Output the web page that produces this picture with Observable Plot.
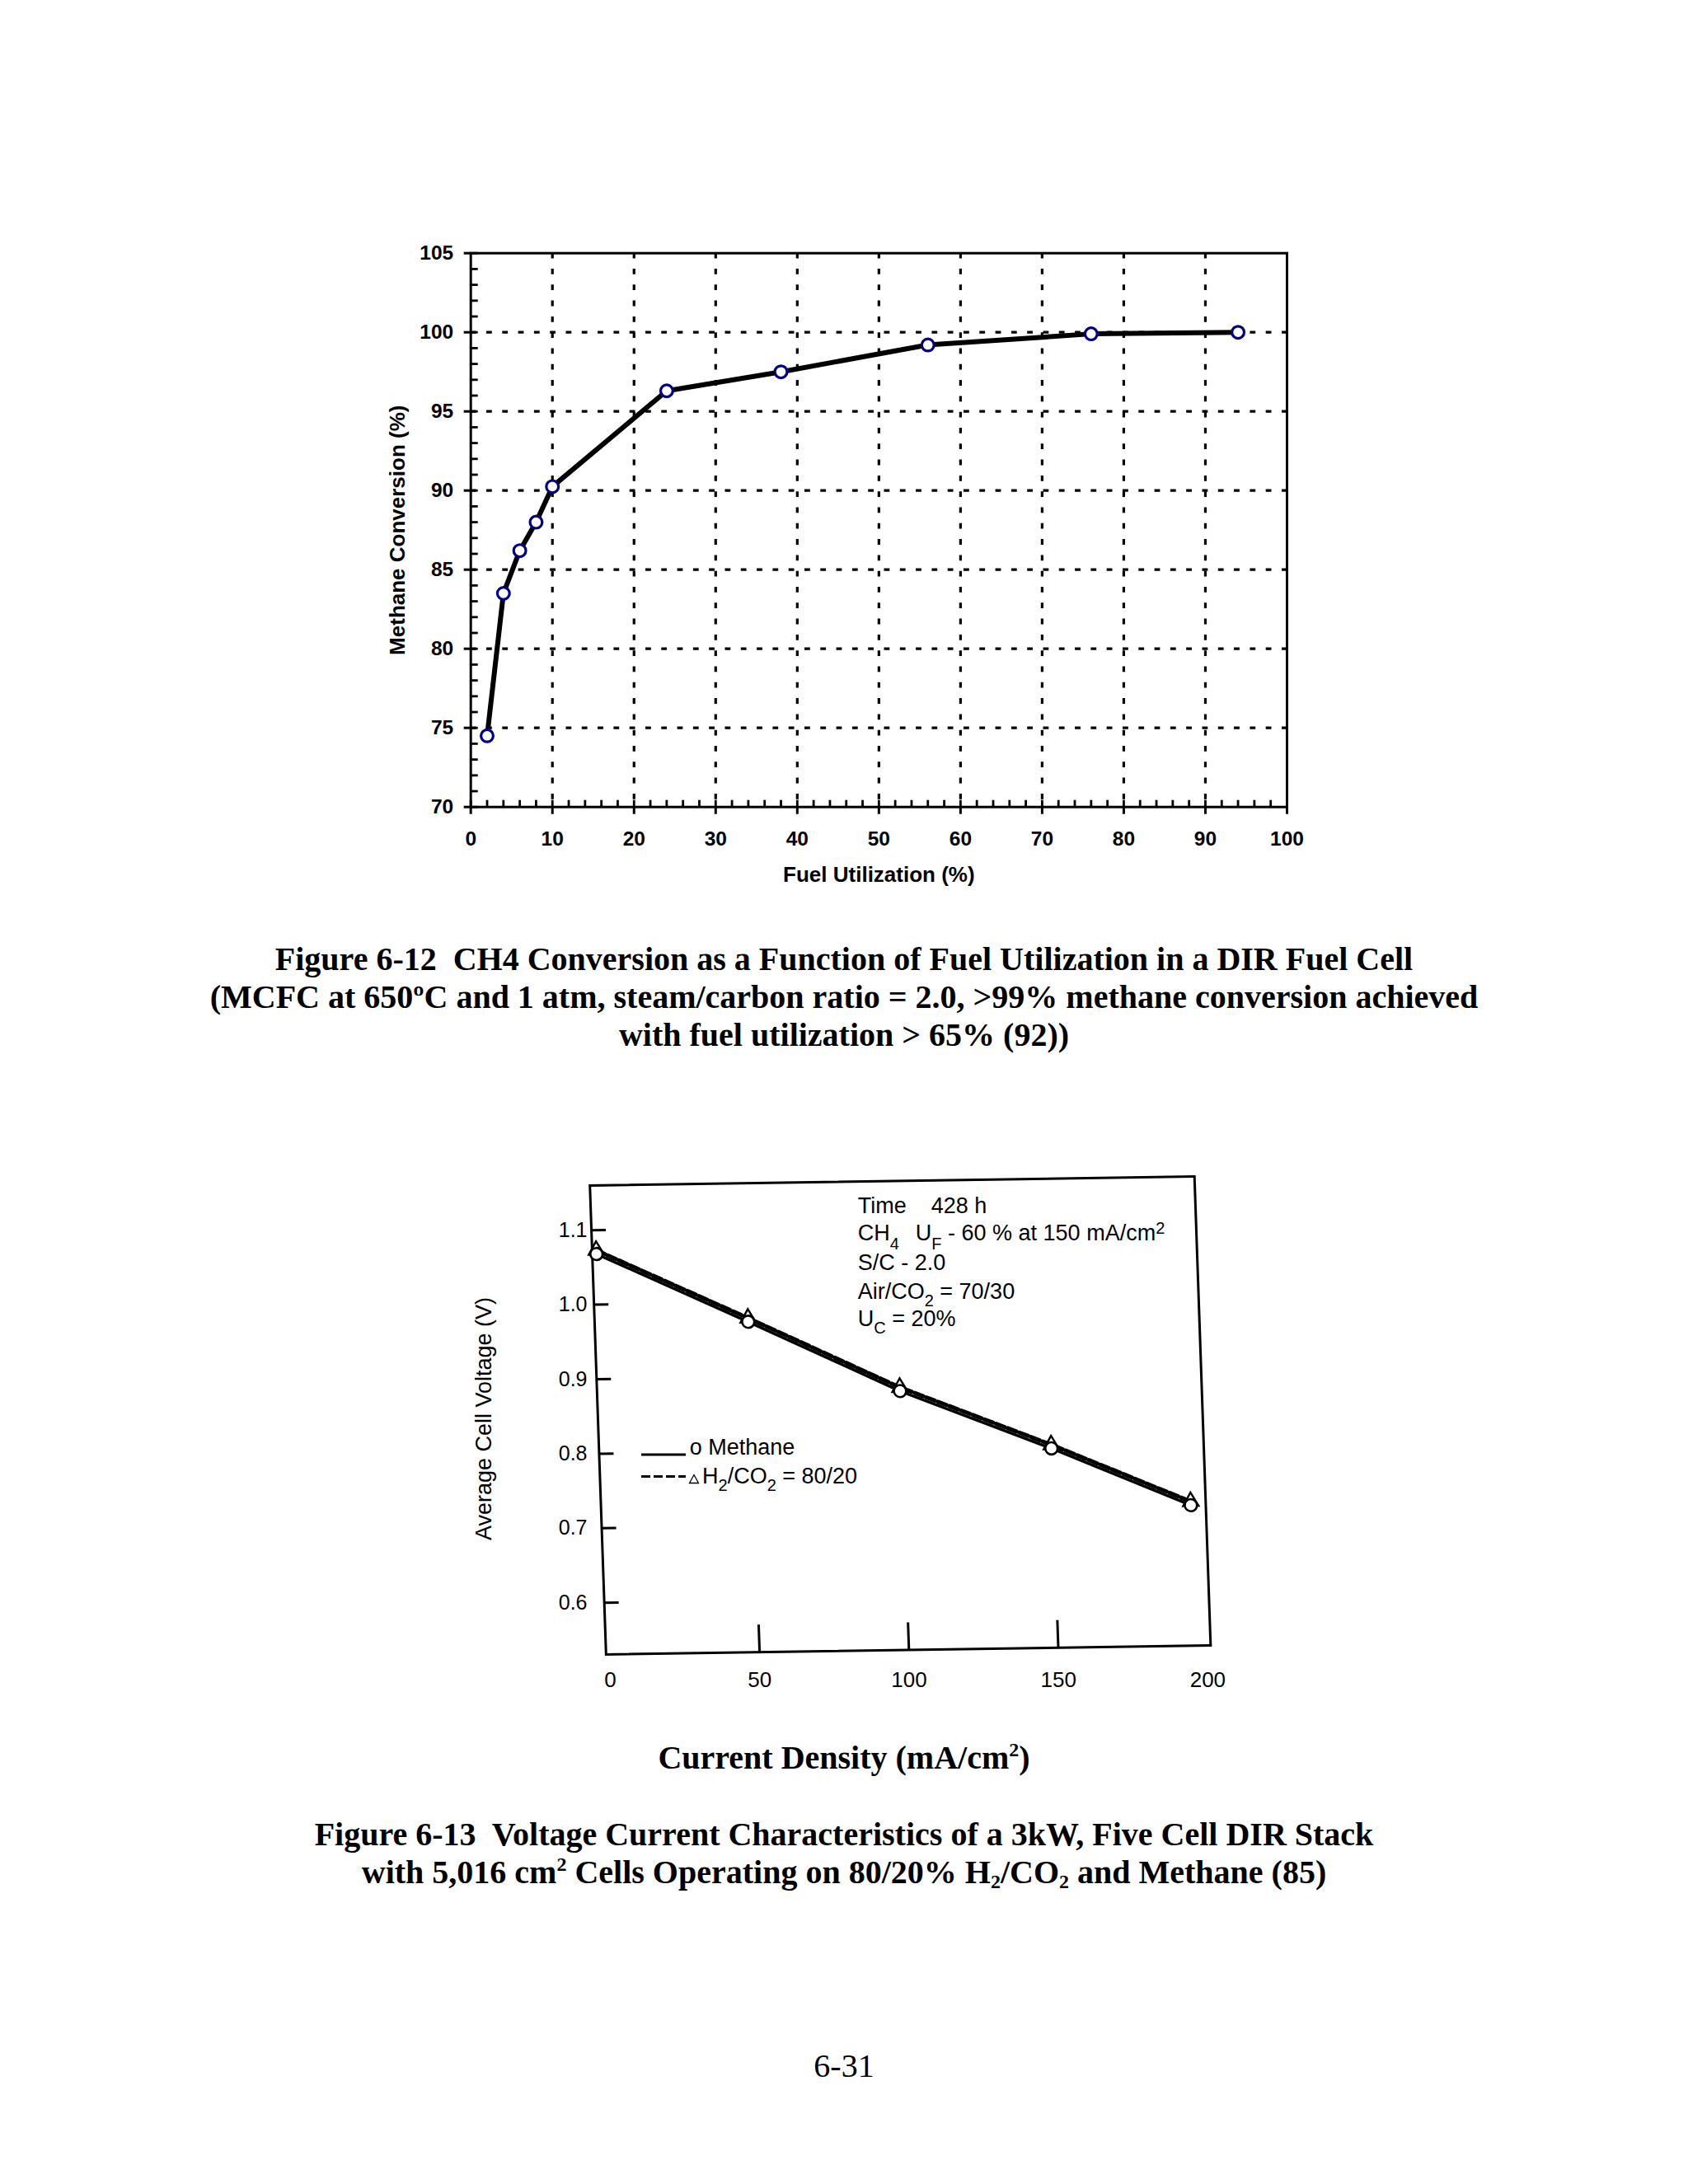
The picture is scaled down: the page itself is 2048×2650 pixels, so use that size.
<!DOCTYPE html>
<html>
<head>
<meta charset="utf-8">
<script src="https://cdn.jsdelivr.net/npm/d3@7"></script>
<script src="https://cdn.jsdelivr.net/npm/@observablehq/plot@0.6"></script>
<style>
html, body { margin: 0; padding: 0; background: #fff; overflow: hidden; }
#page { position: relative; width: 2048px; height: 2650px; overflow: hidden; background: #fff; }
.t { position: absolute; white-space: pre; line-height: 1; color: #000; }
.t sub, .t sup { line-height: 0; }
</style>
</head>
<body>
<div id="page"></div>
<script>
// ---------- Figure 6-12 data ----------
const fuelUtilization   = [2, 4, 6, 8, 10, 24, 38, 56, 76, 94];
const methaneConversion = [74.5, 83.5, 86.2, 88.0, 90.25, 96.3, 97.5, 99.2, 99.9, 100.0];
const xTicks1 = [0, 10, 20, 30, 40, 50, 60, 70, 80, 90, 100];
const yTicks1 = [70, 75, 80, 85, 90, 95, 100, 105];

// ---------- Figure 6-13 data ----------
const currentDensity  = [0, 50, 100, 150, 196];
const voltageMethane  = [1.068, 0.974, 0.878, 0.798, 0.719];
const voltageH2CO2    = [1.073, 0.979, 0.883, 0.803, 0.724];
const xTicks2 = [0, 50, 100, 150, 200];
const yTicks2 = [0.6, 0.7, 0.8, 0.9, 1.0, 1.1];

const page = document.getElementById("page");
const W = 2048;
const SANS = '"Liberation Sans", Arial, Helvetica, sans-serif';
const SERIF = '"Liberation Serif", "Times New Roman", Times, serif';

function place(svg, top, extra) {
  svg.style.position = "absolute";
  svg.style.left = "0px";
  svg.style.top = top + "px";
  svg.style.maxWidth = "none";
  if (extra) Object.assign(svg.style, extra);
  page.appendChild(svg);
}

// ---------- Chart 1 ----------
const c1 = {top: 280, height: 820, left: 570.7, right: 1561, frameTop: 306.7, frameBottom: 978.7};
const pw1 = c1.right - c1.left, ph1 = c1.frameBottom - c1.frameTop;
const data1 = fuelUtilization.map((x, i) => ({x, y: methaneConversion[i]}));
const dash1 = "6.8,12.5";

const chart1 = Plot.plot({
  width: W, height: c1.height,
  marginLeft: c1.left, marginRight: W - c1.right,
  marginTop: c1.frameTop - c1.top, marginBottom: c1.top + c1.height - c1.frameBottom,
  x: {domain: [0, 100]},
  y: {domain: [70, 105]},
  style: {fontFamily: SANS, color: "black", background: "transparent", overflow: "visible"},
  marks: [
    Plot.ruleX(xTicks1.filter(v => v > 0 && v < 100), {x: d => d, stroke: "black", strokeWidth: 3.2, strokeDasharray: dash1}),
    Plot.ruleY(yTicks1.filter(v => v > 70 && v < 105), {y: d => d, stroke: "black", strokeWidth: 3.2, strokeDasharray: dash1}),
    Plot.tickX(d3.range(0, 101, 2), {x: d => d, stroke: "black", strokeWidth: 2.8, insetTop: ph1 - 8}),
    Plot.tickY(d3.range(70, 106, 1), {y: d => d, stroke: "black", strokeWidth: 2.8, insetRight: pw1 - 9}),
    Plot.axisX({ticks: xTicks1, tickSize: 9, tickPadding: 20, fontSize: 24.5, fontWeight: "bold", strokeWidth: 3, label: null}),
    Plot.axisY({ticks: yTicks1, tickSize: 8, tickPadding: 13, fontSize: 24.5, fontWeight: "bold", strokeWidth: 3, label: null}),
    Plot.frame({stroke: "black", strokeWidth: 3}),
    Plot.line(data1, {x: "x", y: "y", stroke: "black", strokeWidth: 6, strokeLinejoin: "round"}),
    Plot.dot(data1, {x: "x", y: "y", r: 7.4, fill: "white", stroke: "#000080", strokeWidth: 3.2}),
    Plot.text(["Methane Conversion (%)"], {frameAnchor: "left", textAnchor: "middle", lineAnchor: "middle", dx: -89, rotate: -90, fontSize: 26, fontWeight: "bold"}),
    Plot.text(["Fuel Utilization (%)"], {frameAnchor: "bottom", textAnchor: "middle", lineAnchor: "middle", dy: 82, fontSize: 26, fontWeight: "bold"})
  ]
});
place(chart1, c1.top);

// ---------- Chart 2 (skewed like the scan) ----------
const c2 = {top: 1400, height: 690, left: 725, right: 1458.5, frameTop: 1432.5, frameBottom: 2001.5, cx: 1091.75, cy: 1717};
const pw2 = c2.right - c2.left, ph2 = c2.frameBottom - c2.frameTop;
const methane = currentDensity.map((x, i) => ({x, y: voltageMethane[i]}));
const h2co2 = currentDensity.map((x, i) => ({x, y: voltageH2CO2[i]}));
const xDomain2 = [-1.4, 201];
const yDomain2 = [0.5305, 1.16];

const chart2 = Plot.plot({
  width: W, height: c2.height,
  marginLeft: c2.left, marginRight: W - c2.right,
  marginTop: c2.frameTop - c2.top, marginBottom: c2.top + c2.height - c2.frameBottom,
  x: {domain: xDomain2, axis: null},
  y: {domain: yDomain2, axis: null},
  style: {fontFamily: SANS, color: "black", background: "transparent", overflow: "visible"},
  marks: [
    Plot.frame({stroke: "black", strokeWidth: 3}),
    Plot.tickY(yTicks2, {y: d => d, stroke: "black", strokeWidth: 3, insetRight: pw2 - 18}),
    Plot.tickX(xTicks2.filter(v => v > 0 && v < 200), {x: d => d, stroke: "black", strokeWidth: 3, insetTop: ph2 - 33}),
    Plot.line(h2co2, {x: "x", y: "y", stroke: "black", strokeWidth: 5, strokeDasharray: "11,4"}),
    Plot.line(methane, {x: "x", y: "y", stroke: "black", strokeWidth: 3.5}),
    Plot.dot(h2co2, {x: "x", y: "y", symbol: "triangle", r: 7, fill: "white", stroke: "black", strokeWidth: 2.4}),
    Plot.dot(methane, {x: "x", y: "y", r: 7.4, fill: "white", stroke: "black", strokeWidth: 2.6})
  ]
});
place(chart2, c2.top, {transformOrigin: `${c2.cx}px ${c2.cy - c2.top}px`, transform: "matrix(1, -0.015, 0.0345, 1, 0, 0)"});

// ---------- Chart 2 axis texts (upright, like the scan's lettering) ----------
const shiftX = 10, shiftY = 5.6;
const chart2Labels = Plot.plot({
  width: W, height: c2.height,
  marginLeft: c2.left + shiftX, marginRight: W - c2.right - shiftX,
  marginTop: c2.frameTop - c2.top + shiftY, marginBottom: c2.top + c2.height - c2.frameBottom - shiftY,
  x: {domain: xDomain2},
  y: {domain: yDomain2},
  style: {fontFamily: SANS, color: "black", background: "transparent", overflow: "visible"},
  marks: [
    Plot.axisY({ticks: yTicks2, tickSize: 0, tickPadding: 23, tickFormat: d3.format(".1f"), fontSize: 25, label: null}),
    Plot.axisX({ticks: xTicks2, tickSize: 0, tickPadding: 20.5, fontSize: 26, label: null}),
    Plot.text(["Average Cell Voltage (V)"], {frameAnchor: "left", textAnchor: "middle", lineAnchor: "middle", dx: -148, dy: -1.6, rotate: -90, fontSize: 27})
  ]
});
place(chart2Labels, c2.top);

// ---------- Text helper ----------
function addText(html, x, baseline, size, family, weight = "normal", anchor = "start") {
  const d = document.createElement("div");
  d.className = "t";
  d.innerHTML = html;
  d.style.fontFamily = family;
  d.style.fontSize = size + "px";
  d.style.fontWeight = weight;
  const k = family === SERIF ? 0.8375 : 0.8465;
  d.style.top = (baseline - k * size) + "px";
  d.style.left = x + "px";
  if (anchor === "middle") d.style.transform = "translateX(-50%)";
  page.appendChild(d);
  return d;
}
const subS = (s, size, off) => `<sub style="font-size:${size}px;vertical-align:${off}px">${s}</sub>`;
const supS = (s, size, off) => `<sup style="font-size:${size}px;vertical-align:${off}px">${s}</sup>`;

// ---------- Chart 2 annotations ----------
const annX = 1040.7;
addText("Time    428 h", annX, 1473, 27, SANS);
addText(`CH${subS("4", 20, -11)}<span style="margin-left:20px">U</span>${subS("F", 20, -11)} - 60 % at 150 mA/cm${supS("2", 20, 8)}`, annX, 1506, 27, SANS);
addText("S/C - 2.0", annX, 1541.5, 27, SANS);
addText(`Air/CO${subS("2", 20, -9)} = 70/30`, annX, 1576.5, 27, SANS);
addText(`U${subS("C", 20, -9)} = 20%`, annX, 1610, 27, SANS);

// ---------- Chart 2 legend ----------
const leg = d3.create("svg")
  .attr("width", 120).attr("height", 80)
  .style("position", "absolute").style("left", "760px").style("top", "1740px").style("overflow", "visible");
leg.append("line").attr("x1", 18).attr("x2", 72).attr("y1", 25).attr("y2", 25)
  .attr("stroke", "black").attr("stroke-width", 3);
leg.append("line").attr("x1", 18).attr("x2", 72).attr("y1", 51.5).attr("y2", 51.5)
  .attr("stroke", "black").attr("stroke-width", 3).attr("stroke-dasharray", "11,4");
leg.append("path").attr("d", "M76.5,59.5 L87.5,59.5 L82,49.5 Z")
  .attr("fill", "none").attr("stroke", "black").attr("stroke-width", 1.3);
page.appendChild(leg.node());
addText("o Methane", 836.7, 1766, 27, SANS);
addText(`H${subS("2", 20, -9)}/CO${subS("2", 20, -9)} = 80/20`, 852, 1801, 27, SANS);

// ---------- Captions ----------
addText("Figure 6-12  CH4 Conversion as a Function of Fuel Utilization in a DIR Fuel Cell", 1024, 1177, 40, SERIF, "bold", "middle");
addText("(MCFC at 650ºC and 1 atm, steam/carbon ratio = 2.0, &gt;99% methane conversion achieved", 1024, 1223, 40, SERIF, "bold", "middle");
addText("with fuel utilization &gt; 65% (92))", 1024, 1269, 40, SERIF, "bold", "middle");

addText(`Current Density (mA/cm${supS("2", 24, 15)})`, 1024, 2146, 40, SERIF, "bold", "middle");

addText("Figure 6-13  Voltage Current Characteristics of a 3kW, Five Cell DIR Stack", 1024, 2239, 40, SERIF, "bold", "middle");
addText(`with 5,016 cm${supS("2", 24, 15)} Cells Operating on 80/20% H${subS("2", 24, -6)}/CO${subS("2", 24, -6)} and Methane (85)`, 1024, 2285, 40, SERIF, "bold", "middle");

addText("6-31", 1024, 2520, 40, SERIF, "normal", "middle");
</script>
</body>
</html>
